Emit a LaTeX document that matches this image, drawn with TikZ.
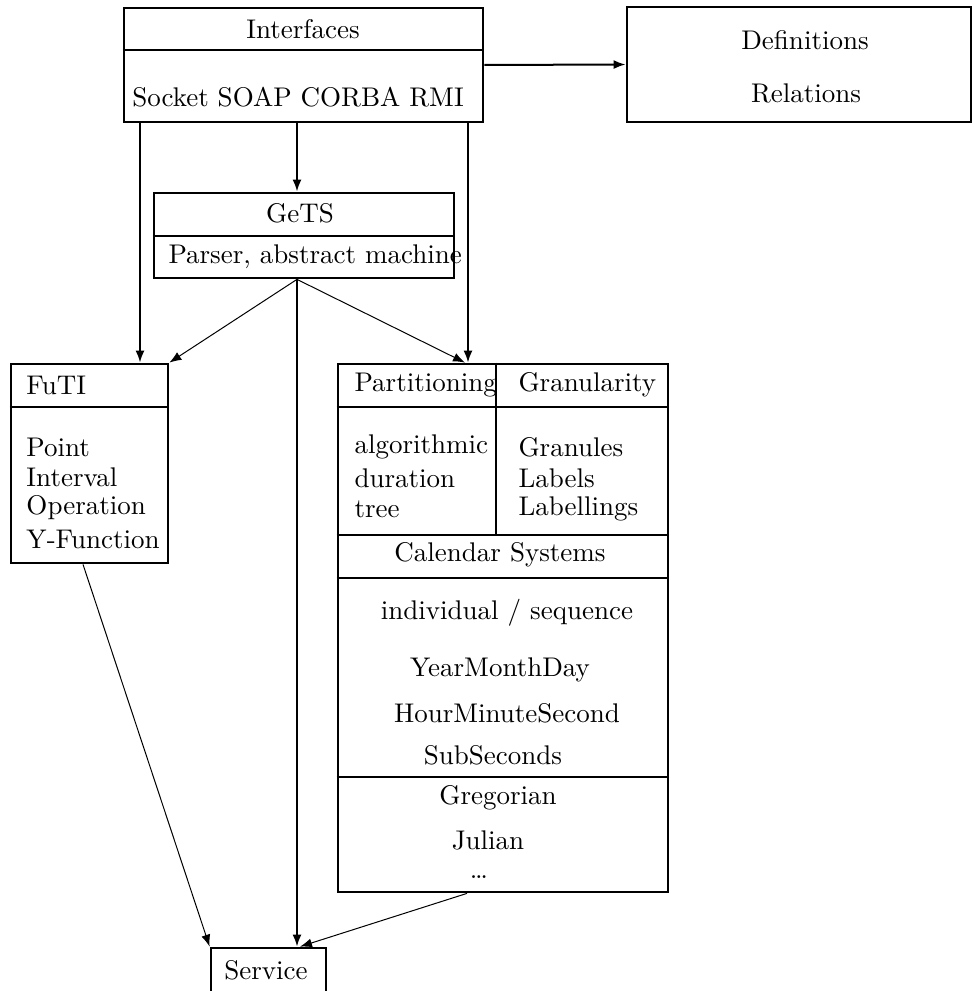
\documentclass[tikz,border=0pt]{standalone}
\usepackage{amsmath}
\usetikzlibrary{arrows.meta}

\begin{document}
\begin{tikzpicture}[x=0.4pt,y=-0.4pt]
      % Define unit (one pixel of the layout)
      \def\px{0.4pt}

      % Styles
      \tikzset{
        box/.style={draw, line width=1.1pt, inner sep=0pt},
        sep/.style={line width=1.1pt},
        txt/.style={inner sep=0pt, font=\fontsize{10.8pt}{13pt}\selectfont},
        tip/.style={-{Latex[length=4.8pt,width=3.6pt]}},
        vline/.style={tip, line width=0.8pt},
        dline/.style={tip, line width=0.4pt}
      }

      \useasboundingbox (0,0) rectangle (973,991);

      % Boxes
      \node[box, minimum width=359*\px, minimum height=114*\px] (ifc) at (303.5,65) {};
      \node[box, minimum width=344*\px, minimum height=115*\px] (def) at (799,64.5) {};
      \node[box, minimum width=300*\px, minimum height=85*\px] (gets) at (304,235.5) {};
      \node[box, minimum width=157*\px, minimum height=199*\px] (futi) at (89.5,463.5) {};
      \node[box, minimum width=330*\px, minimum height=528*\px] (cal) at (503,628) {};
      \node[box, minimum width=115*\px, minimum height=52*\px] (svc) at (268.5,974) {};

      % Dividers
      \draw[sep] (ifc.west |- 0,50) -- (ifc.east |- 0,50);
      \draw[sep] (gets.west |- 0,236) -- (gets.east |- 0,236);
      \draw[sep] (futi.west |- 0,407) -- (futi.east |- 0,407);
      \draw[sep] (cal.west |- 0,407) -- (cal.east |- 0,407);
      \draw[sep] (cal.west |- 0,535) -- (cal.east |- 0,535);
      \draw[sep] (cal.west |- 0,578) -- (cal.east |- 0,578);
      \draw[sep] (cal.west |- 0,777) -- (cal.east |- 0,777);
      \draw[sep] (cal.north -| 496,0) -- (496,535);

      % Interfaces
      \node[txt] (ifcT) at (303,29) {Interfaces};
      \node[txt] (ifcB) at (298,97) {Socket SOAP CORBA RMI};

      % Definitions
      \node[txt] (defA) at (805,40) {Definitions};
      \node[txt] (defB) at (806,93) {Relations};

      % GeTS
      \node[txt] (getsT) at (300,213) {GeTS};
      \node[txt, anchor=west] (getsB) at (168,257) {Parser, abstract machine};

      % FuTI
      \node[txt, anchor=west] (futiT) at (26,385) {FuTI};
      \node[txt, anchor=west] (futiA) at (26,447) {Point};
      \node[txt, anchor=west] (futiB) at (26,477) {Interval};
      \node[txt, anchor=west] (futiC) at (26,508) {Operation};
      \node[txt, anchor=west] (futiD) at (26,539) {Y-Function};

      % Partitioning / Granularity
      \node[txt, anchor=west] (partT) at (354,385) {Partitioning};
      \node[txt, anchor=west] (partA) at (354,447) {algorithmic};
      \node[txt, anchor=west] (partB) at (354,478) {duration};
      \node[txt, anchor=west] (partC) at (354,509) {tree};
      \node[txt, anchor=west] (granT) at (518,385) {Granularity};
      \node[txt, anchor=west] (granA) at (518,447) {Granules};
      \node[txt, anchor=west] (granB) at (518,478) {Labels};
      \node[txt, anchor=west] (granC) at (518,509) {Labellings};

      % Calendar systems
      \node[txt] (calT) at (500,555) {Calendar Systems};
      \node[txt] (calA) at (507,613) {individual / sequence};
      \node[txt] (calB) at (500,670) {YearMonthDay};
      \node[txt] (calC) at (507,713) {HourMinuteSecond};
      \node[txt] (calD) at (493,755) {SubSeconds};
      \node[txt] (calE) at (498,798) {Gregorian};
      \node[txt] (calF) at (488,840) {Julian};
      \node[txt] (calG) at (479,877) {\ldots};

      % Service
      \node[txt] (svcT) at (266,970) {Service};

      % Connections from Interfaces
      \draw[vline] (ifc.east) -- (def.west);
      \draw[vline] (ifc.south -| 140,0) -- (futi.north -| 140,0);
      \draw[vline] (ifc.south -| 297,0) -- (gets.north -| 297,0);
      \draw[vline] (ifc.south -| 468,0) -- (cal.north -| 468,0);

      % Connections from GeTS
      \draw[dline] (gets.south -| 297,0) -- (futi.north east);
      \draw[dline] (gets.south -| 297,0) -- (cal.north -| 465,0);
      \draw[vline] (gets.south -| 297,0) -- (svc.north -| 297,0);

      % Connections to Service
      \draw[dline] (futi.south -| 83,0) -- (svc.north west);
      \draw[dline] (cal.south -| 467,0) -- (svc.north -| 300,0);

    \end{tikzpicture}
\end{document}
